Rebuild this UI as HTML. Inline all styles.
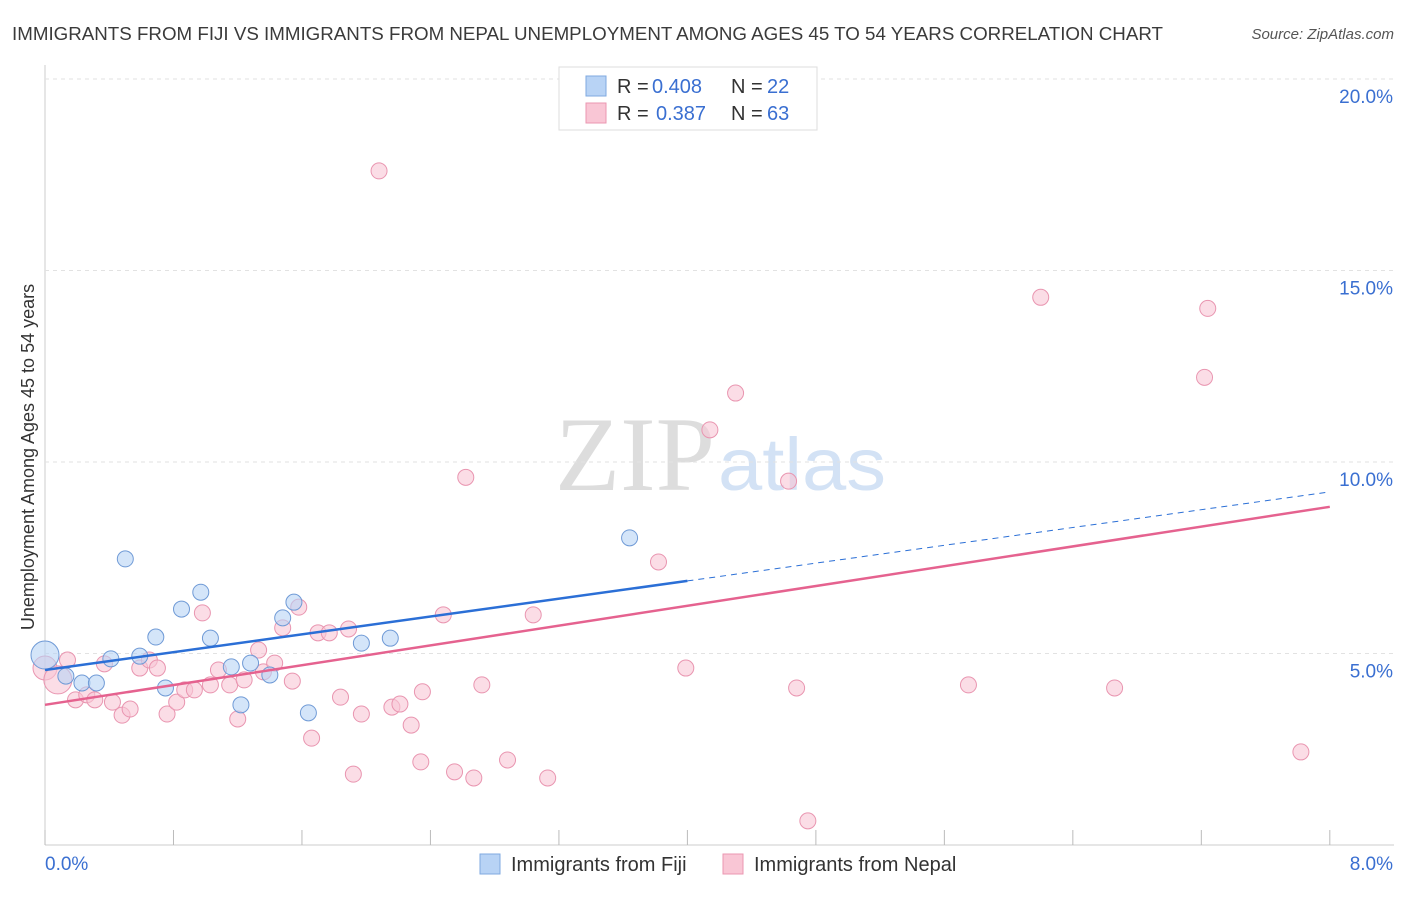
<!DOCTYPE html>
<html><head><meta charset="utf-8"><style>
body{margin:0;background:#fff;font-family:"Liberation Sans",sans-serif}
</style></head><body>
<svg id="c" width="1406" height="892" xmlns="http://www.w3.org/2000/svg">
<text x="12" y="40" font-size="18" textLength="1151" lengthAdjust="spacingAndGlyphs" fill="#3a3a3a">IMMIGRANTS FROM FIJI VS IMMIGRANTS FROM NEPAL UNEMPLOYMENT AMONG AGES 45 TO 54 YEARS CORRELATION CHART</text>
<text x="1394" y="39" font-size="15" fill="#555" font-style="italic" text-anchor="end">Source: ZipAtlas.com</text>
<text x="555" y="490" font-size="106" textLength="160" lengthAdjust="spacingAndGlyphs" fill="#ddd" font-family="Liberation Serif,serif">ZIP</text>
<text x="718" y="490" font-size="74" textLength="168" lengthAdjust="spacingAndGlyphs" fill="#d3e2f5">atlas</text>
<text transform="translate(34,457) rotate(-90)" font-size="18" fill="#333" text-anchor="middle">Unemployment Among Ages 45 to 54 years</text>
<g id="grid"></g><g id="marks"></g>
<g>
<rect x="559" y="67" width="258" height="63" fill="#fff" stroke="#ddd"/>
<rect x="586" y="76" width="20" height="20" fill="#b8d3f5" stroke="#7fa9e0"/>
<rect x="586" y="103" width="20" height="20" fill="#f9c6d5" stroke="#eb97b1"/>
<text x="617" y="93" font-size="20" fill="#333">R =</text>
<text x="652" y="93" font-size="20" fill="#3a6fd1">0.408</text>
<text x="731" y="93" font-size="20" fill="#333">N =</text>
<text x="767" y="93" font-size="20" fill="#3a6fd1">22</text>
<text x="617" y="120" font-size="20" fill="#333">R =</text>
<text x="656" y="120" font-size="20" fill="#3a6fd1">0.387</text>
<text x="731" y="120" font-size="20" fill="#333">N =</text>
<text x="767" y="120" font-size="20" fill="#3a6fd1">63</text>
</g>
<g>
<rect x="480" y="854" width="20" height="20" fill="#b8d3f5" stroke="#7fa9e0"/>
<text x="511" y="871" font-size="20" fill="#333">Immigrants from Fiji</text>
<rect x="723" y="854" width="20" height="20" fill="#f9c6d5" stroke="#eb97b1"/>
<text x="754" y="871" font-size="20" fill="#333">Immigrants from Nepal</text>
</g>
</svg>
<script>
const xTicks=[0,0.8,1.6,2.4,3.2,4.0,4.8,5.6,6.4,7.2,8.0];
const yTicks=[5,10,15,20];
const fijiX=[0,0.13,0.23,0.32,0.41,0.50,0.59,0.69,0.75,0.85,0.97,1.03,1.16,1.22,1.28,1.40,1.48,1.55,1.64,1.97,2.15,3.64];
const fijiY=[4.96,4.41,4.23,4.23,4.86,7.47,4.93,5.43,4.10,6.16,6.60,5.40,4.65,3.66,4.75,4.44,5.93,6.34,3.45,5.27,5.40,8.02];
const nepalX=[0,0.08,0.14,0.19,0.26,0.31,0.37,0.42,0.48,0.53,0.59,0.65,0.70,0.76,0.82,0.87,0.93,0.98,1.03,1.08,1.15,1.20,1.24,1.33,1.36,1.43,1.48,1.54,1.58,1.66,1.70,1.77,1.84,1.89,1.92,1.97,2.08,2.16,2.21,2.28,2.34,2.35,2.48,2.55,2.62,2.67,2.72,2.88,3.04,3.13,3.82,3.99,4.14,4.30,4.63,4.68,4.75,5.75,6.20,6.66,7.22,7.24,7.82];
const nepalY=[4.62,4.31,4.83,3.79,3.92,3.79,4.73,3.73,3.39,3.55,4.62,4.83,4.62,3.42,3.73,4.05,4.05,6.06,4.18,4.57,4.18,3.29,4.31,5.09,4.52,4.75,5.67,4.28,6.21,2.79,5.54,5.54,3.86,5.64,1.85,3.42,17.60,3.60,3.68,3.13,2.17,4.00,6.01,1.91,9.60,1.75,4.18,2.22,6.01,1.75,7.39,4.62,10.84,11.80,9.50,4.10,0.63,4.18,14.30,4.10,12.21,14.01,2.43];
const fijiLine=[4.57,9.22], nepalLine=[3.66,8.83];
const X=v=>45+v*160.6, Y=v=>845-v*38.3;
const NS='http://www.w3.org/2000/svg';
function mk(p,t,a){const e=document.createElementNS(NS,t);for(const k in a)e.setAttribute(k,a[k]);p.appendChild(e);return e;}
const g=document.getElementById('grid'), m=document.getElementById('marks');
mk(g,'line',{x1:45,y1:65,x2:45,y2:845,stroke:'#ccc'});
mk(g,'line',{x1:45,y1:845,x2:1394,y2:845,stroke:'#ccc'});
yTicks.forEach(t=>{
 const l=mk(g,'line',{x1:45,y1:Y(t),x2:1394,y2:Y(t),stroke:'#e2e2e2','stroke-dasharray':'4,4'});
 
 
 const tx=mk(g,'text',{x:1393,y:Y(t)+24,'font-size':19,fill:'#3a6fd1','text-anchor':'end'});
 tx.textContent=t.toFixed(1)+'%';
 
 
});
xTicks.forEach((t,i)=>{
 const l=mk(g,'line',{x1:X(t),y1:830,x2:X(t),y2:845,stroke:'#bbb'});
 
 
 if(i==0||i==xTicks.length-1){
  const tx=mk(g,'text',{x:i==0?45:1393,y:870,'font-size':19,fill:'#3a6fd1','text-anchor':i==0?'start':'end'});
  tx.textContent=t.toFixed(1)+'%';
  
  
 }
});
nepalX.forEach((v,i)=>{
 const c=mk(m,'circle',{cx:X(v),cy:Y(nepalY[i]),r:i==1?14:(i==0?12:8),fill:'#f9c6d5','fill-opacity':0.6,stroke:'#e995b0','stroke-width':1});
 
 
});
fijiX.forEach((v,i)=>{
 const c=mk(m,'circle',{cx:X(v),cy:Y(fijiY[i]),r:i==0?14:8,fill:'#b8d3f5','fill-opacity':0.6,stroke:'#6f9ad6','stroke-width':1});
 
 
});
const fy=x=>fijiLine[0]+(fijiLine[1]-fijiLine[0])*x/8;
let l1=mk(m,'line',{x1:X(0),y1:Y(fy(0)),x2:X(4),y2:Y(fy(4)),stroke:'#2b6fd6','stroke-width':2.5});


let l2=mk(m,'line',{x1:X(4),y1:Y(fy(4)),x2:X(8),y2:Y(fy(8)),stroke:'#2b6fd6','stroke-width':1,'stroke-dasharray':'6,5'});


let l3=mk(m,'line',{x1:X(0),y1:Y(nepalLine[0]),x2:X(8),y2:Y(nepalLine[1]),stroke:'#e5628f','stroke-width':2.5});


</script>
</body></html>
